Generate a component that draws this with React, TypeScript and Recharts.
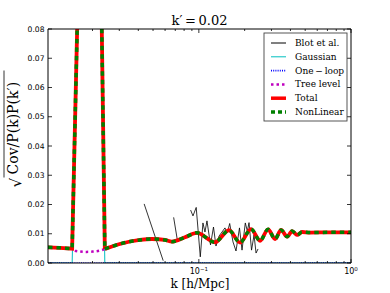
import {LineChart, Line, XAxis, YAxis} from 'recharts';

const W = 390;
const H = 293;

// k [h/Mpc] and sqrt(Cov / P(k)P(k'))
const kLow = [0.0102, 0.0122, 0.0147, 0.02, 0.0241];
const totalLow = [0.00537, 0.0052, 0.0049, 0.31, 0.0048];

const kHigh = [
    0.0241, 0.0247, 0.0302, 0.041, 0.0491, 0.0598, 0.0665, 0.081, 0.0972, 0.1276,
    0.1578, 0.1865, 0.2203, 0.2526, 0.2851, 0.317, 0.3471, 0.3802, 0.4102, 0.4425,
    0.4774, 0.5389, 0.7296, 1.0,
];
const totalHigh = [
    0.0048, 0.005, 0.0065, 0.0079, 0.0082, 0.0079, 0.0073, 0.0088, 0.0103, 0.0071,
    0.0112, 0.007, 0.0116, 0.0076, 0.0115, 0.0082, 0.0113, 0.009, 0.0109, 0.0096,
    0.0106, 0.0104, 0.0105, 0.0105,
];

const kTreeLow = [0.0102, 0.0122, 0.0147, 0.0153, 0.0183, 0.0201, 0.0229, 0.0241];
const treeLow = [0.00537, 0.0052, 0.0049, 0.0042, 0.0038, 0.0039, 0.0044, 0.0048];

const kGauss = [0.0102, 0.0147, 0.02, 0.0241, 1.0];
const gauss = [0, 0, 0.305, 0, 0];

const kLoop = [0.0102, 0.1, 1.0];
const oneLoop = [0, 0, 0];

const kBlot = [
    0.0437, 0.0583, 0.063, 0.0683, 0.0721, 0.08, 0.0883, 0.0915, 0.0961, 0.1022,
    0.1064, 0.1097, 0.1131, 0.1193, 0.1248, 0.1296, 0.1357, 0.142, 0.1485, 0.1538,
    0.1595, 0.1677, 0.1755, 0.185, 0.1922, 0.202, 0.2083, 0.2137, 0.222, 0.2306,
    0.2376, 0.2449,
];
const blot = [
    0.0202, 0.0008, null, 0.0156, 0.0081, null, 0.0181, 0.0161, 0.019, 0.0021,
    0.0137, 0.0106, 0.0144, 0.0062, 0.0123, 0.0058, 0.0092, 0.0106, 0.012, 0.0103,
    0.0135, 0.0072, 0.0041, 0.012, 0.0044, 0.0137, 0.0109, 0.0138, 0.0044, 0.0096,
    0.0034, 0.0048,
];

const xMinor = [0.02, 0.03, 0.04, 0.05, 0.06, 0.07, 0.08, 0.09, 0.2, 0.3, 0.4, 0.5, 0.6, 0.7, 0.8, 0.9];
const xMajor = [0.1, 1];
const xMajorExp = ['\u22121', '0'];
const yTicks = [0, 0.01, 0.02, 0.03, 0.04, 0.05, 0.06, 0.07, 0.08];

const X_DOMAIN = [0.0102, 1];
const Y_DOMAIN = [0, 0.08];

const toPts = (ks: number[], vs: (number | null)[]) => ks.map((k, i) => ({k, v: vs[i]}));

const treeK = [...kTreeLow, ...kHigh.slice(1)];
const treeV = [...treeLow, ...totalHigh.slice(1)];

const legendItems = [
    {name: 'Blot et al.', color: '#000000', width: 1, dash: undefined},
    {name: 'Gaussian', color: '#00bfbf', width: 1, dash: undefined},
    {name: 'One\u2009\u2212\u2009loop', color: '#0000ff', width: 1.8, dash: '1 1.2'},
    {name: 'Tree level', color: '#bf00bf', width: 2.5, dash: '2.5 3'},
    {name: 'Total', color: '#ff0000', width: 3.5, dash: undefined},
    {name: 'NonLinear', color: '#008000', width: 3.5, dash: '4 3'},
];

const TICK = '#000';
const isMajor = (v: number) => xMajor.some((m) => Math.abs(m - v) < 1e-9);

function BottomTick(props: any) {
    const {x, y, payload} = props;
    const v = payload.value;
    const major = isMajor(v);
    const idx = xMajor.findIndex((m) => Math.abs(m - v) < 1e-9);
    return (
        <g>
            <line x1={x} x2={x} y1={y} y2={y - (major ? 4 : 2)} stroke={TICK} strokeWidth={0.8}/>
            {major && (
                <text x={x} y={y + 11} textAnchor="middle" fontSize={8} fontFamily="DejaVu Sans" fill="#000">
                    10
                    <tspan dy={-3.5} fontSize={5.5}>{xMajorExp[idx]}</tspan>
                </text>
            )}
        </g>
    );
}

function TopTick(props: any) {
    const {x, y, payload} = props;
    const major = isMajor(payload.value);
    return <line x1={x} x2={x} y1={y} y2={y + (major ? 4 : 2)} stroke={TICK} strokeWidth={0.8}/>;
}

function LeftTick(props: any) {
    const {x, y, payload} = props;
    return (
        <g>
            <line x1={x} x2={x + 4} y1={y} y2={y} stroke={TICK} strokeWidth={0.8}/>
            <text x={x - 3.5} y={y + 2.7} textAnchor="end" fontSize={7.6} fontFamily="DejaVu Sans" fill="#000">
                {payload.value.toFixed(2)}
            </text>
        </g>
    );
}

function RightTick(props: any) {
    const {x, y} = props;
    return <line x1={x} x2={x - 4} y1={y} y2={y} stroke={TICK} strokeWidth={0.8}/>;
}

function Legend() {
    const left = 264;
    const top = 33;
    return (
        <g>
            <rect x={left} y={top} width={83} height={88} fill="#fff" stroke="#444" strokeWidth={0.9}/>
            {legendItems.map((it, i) => {
                const cy = 43 + i * 13.8;
                return (
                    <g key={it.name}>
                        <line x1={271} x2={286} y1={cy} y2={cy} stroke={it.color}
                              strokeWidth={it.width} strokeDasharray={it.dash}/>
                        <text x={295} y={cy + 3} fontSize={9} fontFamily="DejaVu Serif" fill="#000">
                            {it.name}
                        </text>
                    </g>
                );
            })}
        </g>
    );
}

export default function App() {
    const common = {
        dataKey: 'v',
        xAxisId: 'b',
        yAxisId: 'l',
        dot: false,
        activeDot: false,
        isAnimationActive: false,
    } as const;

    return (
        <div style={{position: 'absolute', left: 0, top: 0, width: W, height: H, background: '#fff'}}>
            <LineChart width={W} height={H} margin={{top: 19, right: 29, bottom: 10, left: 8}}>
                <XAxis xAxisId="b" dataKey="k" type="number" scale="log" domain={X_DOMAIN}
                       allowDataOverflow ticks={[...xMinor, ...xMajor]} interval={0}
                       height={20} tickSize={0} tickMargin={0} tickLine={false}
                       axisLine={{stroke: '#000', strokeWidth: 1}} tick={<BottomTick/>}/>
                <XAxis xAxisId="t" orientation="top" dataKey="k" type="number" scale="log"
                       domain={X_DOMAIN} allowDataOverflow ticks={[...xMinor, ...xMajor]} interval={0}
                       height={10} tickSize={0} tickMargin={0} tickLine={false}
                       axisLine={{stroke: '#000', strokeWidth: 1}} tick={<TopTick/>}/>
                <YAxis yAxisId="l" type="number" domain={Y_DOMAIN} allowDataOverflow ticks={yTicks}
                       interval={0} width={40} tickSize={0} tickMargin={0} tickLine={false}
                       axisLine={{stroke: '#000', strokeWidth: 1}} tick={<LeftTick/>}/>
                <YAxis yAxisId="r" orientation="right" type="number" domain={Y_DOMAIN} allowDataOverflow
                       ticks={yTicks} interval={0} width={10} tickSize={0} tickMargin={0} tickLine={false}
                       axisLine={{stroke: '#000', strokeWidth: 1}} tick={<RightTick/>}/>

                <Line {...common} data={toPts(kBlot, blot)} type="linear" stroke="#000"
                      strokeWidth={0.8} connectNulls={false}/>
                <Line {...common} data={toPts(kGauss, gauss)} type="linear" stroke="#00bfbf" strokeWidth={1}/>
                <Line {...common} data={toPts(kLoop, oneLoop)} type="linear" stroke="#0000ff"
                      strokeWidth={1.6} strokeDasharray="1 1.2"/>
                <Line {...common} data={toPts(treeK, treeV)} type="monotone" stroke="#bf00bf"
                      strokeWidth={2.5} strokeDasharray="2.5 3"/>
                <Line {...common} data={toPts(kLow, totalLow)} type="linear" stroke="#ff0000" strokeWidth={3.8}/>
                <Line {...common} data={toPts(kHigh, totalHigh)} type="monotone" stroke="#ff0000" strokeWidth={3.8}/>
                <Line {...common} data={toPts(kLow, totalLow)} type="linear" stroke="#008000"
                      strokeWidth={3.5} strokeDasharray="4.5 4"/>
                <Line {...common} data={toPts(kHigh, totalHigh)} type="monotone" stroke="#008000"
                      strokeWidth={3.5} strokeDasharray="4.5 4"/>
            </LineChart>

            <svg width={W} height={H} style={{position: 'absolute', left: 0, top: 0, pointerEvents: 'none'}}>
                <text x={199.5} y={25} textAnchor="middle" fontSize={13} fontFamily="DejaVu Serif" fill="#000">
                    {'k\u2032\u2009=\u20090.02'}
                </text>
                <text x={200} y={288} textAnchor="middle" fontSize={12} fontFamily="DejaVu Serif" fill="#000">
                    k [h/Mpc]
                </text>
                <g transform="translate(18,128.5) rotate(-90)">
                    <text x={-59} y={3} fontSize={15} fontFamily="DejaVu Sans" fill="#000">{'\u221a'}</text>
                    <text x={-46} y={0} fontSize={14} fontFamily="DejaVu Serif" fill="#000">
                        {'Cov/P(k)P(k\u2032)'}
                    </text>
                    <line x1={-49} x2={58} y1={-14} y2={-14} stroke="#000" strokeWidth={0.8}/>
                </g>
                <Legend/>
            </svg>
        </div>
    );
}
